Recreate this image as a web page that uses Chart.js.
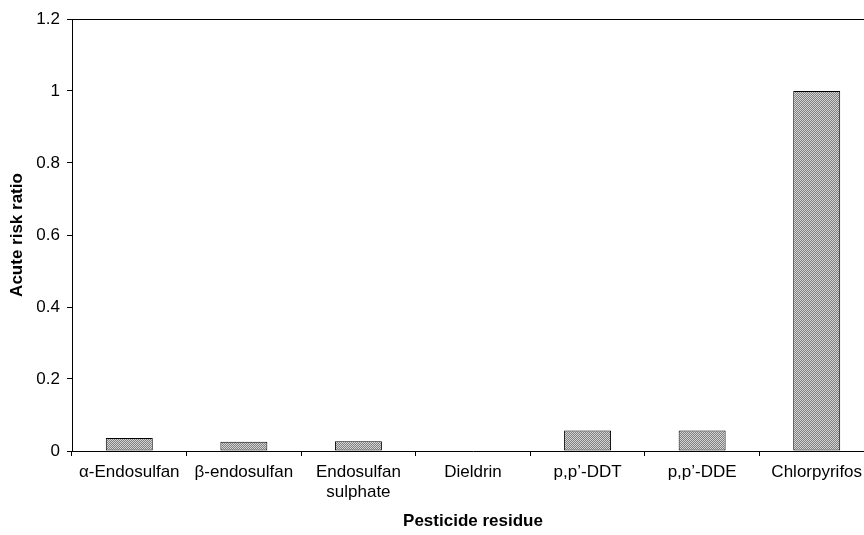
<!DOCTYPE html>
<html>
<head>
<meta charset="utf-8">
<script src="https://cdn.jsdelivr.net/npm/chart.js@4/dist/chart.umd.min.js"></script>
<style>
  html, body { margin: 0; padding: 0; background: #fff; overflow: hidden; }
  #wrap { width: 880px; height: 535px; }
</style>
</head>
<body>
<div id="wrap"><canvas id="riskChart" width="880" height="535"></canvas></div>
<script>
const residues = ["α-Endosulfan", "β-endosulfan", ["Endosulfan", "sulphate"], "Dieldrin", "p,p’-DDT", "p,p’-DDE", "Chlorpyrifos"];
const riskRatio = [0.036, 0.026, 0.027, 0, 0.057, 0.057, 1.0];
const yTicks = [0, 0.2, 0.4, 0.6, 0.8, 1, 1.2];

document.addEventListener("DOMContentLoaded", function () {
    const font = "'Liberation Sans', Arial, sans-serif";

    // grey dotted fill like the original bars
    function makePattern() {
        const p = document.createElement("canvas");
        p.width = 2;
        p.height = 2;
        const pc = p.getContext("2d");
        pc.fillStyle = "#808080";
        pc.fillRect(0, 0, 2, 2);
        pc.fillStyle = "#d4d4d4";
        pc.fillRect(0, 0, 1, 1);
        pc.fillRect(1, 1, 1, 1);
        return pc.createPattern(p, "repeat");
    }

    // top line of the plot area frame
    const frame = {
        id: "frame",
        afterDraw(chart) {
            const a = chart.chartArea;
            const ctx = chart.ctx;
            ctx.save();
            ctx.strokeStyle = "#000";
            ctx.lineWidth = 1;
            ctx.beginPath();
            ctx.moveTo(a.left, a.top + 0.5);
            ctx.lineTo(a.right, a.top + 0.5);
            ctx.stroke();
            ctx.restore();
        }
    };

    const ctx = document.getElementById("riskChart").getContext("2d");

    new Chart(ctx, {
        type: "bar",
        data: {
            labels: residues,
            datasets: [{
                data: riskRatio,
                backgroundColor: makePattern(),
                borderColor: "#000",
                borderWidth: 1,
                borderSkipped: false,
                categoryPercentage: 1,
                barPercentage: 0.41
            }]
        },
        options: {
            responsive: false,
            animation: false,
            layout: { padding: { top: 19, right: 6, left: 0, bottom: 0 } },
            plugins: {
                legend: { display: false },
                tooltip: { enabled: false }
            },
            scales: {
                x: {
                    afterFit: function (s) { s.height = 84; },
                    border: { color: "#000", width: 1 },
                    grid: { drawOnChartArea: false, drawTicks: true, tickLength: 5, color: "#000", offset: true },
                    ticks: {
                        color: "#000",
                        font: { family: font, size: 17 },
                        padding: 6,
                        maxRotation: 0,
                        autoSkip: false
                    },
                    title: {
                        display: true,
                        text: "Pesticide residue",
                        color: "#000",
                        font: { family: font, size: 17, weight: "bold" },
                        padding: { top: 0, bottom: 3 }
                    }
                },
                y: {
                    min: 0,
                    max: 1.2,
                    afterFit: function (s) { s.width = 72; },
                    afterBuildTicks: function (s) { s.ticks = yTicks.map(v => ({ value: v })); },
                    border: { color: "#000", width: 1 },
                    grid: { drawOnChartArea: false, drawTicks: true, tickLength: 5, color: "#000" },
                    ticks: {
                        color: "#000",
                        font: { family: font, size: 17 },
                        padding: 7,
                        callback: function (v) { return String(v); }
                    },
                    title: {
                        display: true,
                        text: "Acute risk ratio",
                        color: "#000",
                        font: { family: font, size: 17, weight: "bold" },
                        padding: { top: 7, bottom: 0 }
                    }
                }
            }
        },
        plugins: [frame]
    });
});
</script>
</body>
</html>
